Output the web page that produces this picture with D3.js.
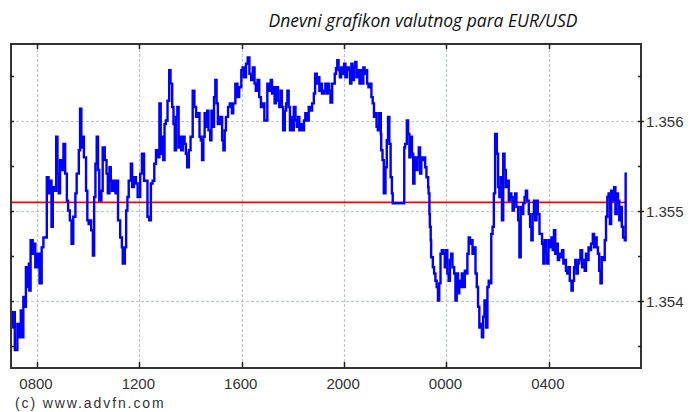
<!DOCTYPE html>
<html>
<head>
<meta charset="utf-8">
<script src="https://cdn.jsdelivr.net/npm/d3@7"></script>
<style>
  body { margin: 0; background: #fff; }
  svg { display: block; }
</style>
</head>
<body>
<div id="chart"></div>
<script>
// minutes after 07:00 on day one, and EUR/USD price at that time
var mins = [
  2, 4, 8, 14, 19, 22, 25, 28, 32, 34, 37, 41, 42, 45, 50, 53, 56, 61, 66, 71,
  75, 80, 83, 87, 91, 94, 97, 100, 105, 108, 111, 114, 118, 122, 126, 130, 133, 137, 141, 145,
  150, 153, 158, 161, 164, 167, 170, 175, 178, 181, 184, 187, 191, 194, 197, 200, 203, 206, 211, 214,
  219, 223, 226, 230, 233, 236, 239, 244, 247, 250, 255, 259, 261, 266, 269, 272, 275, 280, 283, 287,
  292, 296, 302, 306, 311, 316, 319, 323, 327, 331, 335, 339, 343, 347, 350, 353, 356, 359, 362, 366,
  370, 373, 377, 380, 383, 386, 389, 392, 395, 398, 402, 406, 409, 412, 416, 420, 425, 429, 433, 437,
  441, 444, 447, 450, 453, 456, 459, 462, 466, 469, 472, 475, 478, 481, 484, 489, 494, 497, 500, 503,
  508, 512, 517, 520, 525, 530, 534, 539, 542, 545, 550, 554, 558, 562, 566, 570, 573, 577, 581, 585,
  589, 593, 600, 605, 608, 611, 614, 617, 620, 625, 628, 631, 634, 637, 641, 644, 647, 650, 653, 656,
  659, 662, 666, 669, 672, 675, 678, 681, 686, 689, 694, 697, 702, 705, 709, 712, 716, 719, 722, 725,
  728, 733, 736, 739, 742, 745, 748, 752, 755, 758, 761, 764, 767, 770, 773, 777, 780, 783, 787, 791,
  794, 797, 800, 803, 806, 809, 812, 816, 819, 822, 825, 828, 831, 834, 837, 841, 844, 847, 850, 853,
  856, 859, 862, 866, 867, 870, 873, 877, 880, 883, 886, 889, 892, 894, 920, 921, 923, 927, 930, 933,
  936, 939, 942, 945, 948, 952, 955, 958, 961, 964, 967, 970, 973, 977, 978, 980, 981, 983, 984, 988,
  991, 994, 997, 1000, 1003, 1006, 1009, 1013, 1016, 1019, 1022, 1025, 1028, 1031, 1034, 1038, 1041, 1044, 1047, 1050,
  1053, 1056, 1059, 1063, 1066, 1069, 1072, 1075, 1078, 1081, 1084, 1088, 1091, 1094, 1097, 1100, 1103, 1106, 1109, 1113,
  1116, 1119, 1122, 1125, 1128, 1131, 1134, 1138, 1141, 1144, 1147, 1150, 1153, 1156, 1159, 1163, 1166, 1169, 1172, 1175,
  1178, 1181, 1184, 1188, 1191, 1194, 1197, 1200, 1203, 1206, 1209, 1213, 1216, 1219, 1222, 1225, 1228, 1231, 1234, 1238,
  1241, 1244, 1247, 1250, 1253, 1256, 1259, 1263, 1266, 1269, 1272, 1275, 1278, 1281, 1284, 1288, 1291, 1294, 1297, 1300,
  1303, 1306, 1309, 1313, 1316, 1319, 1322, 1325, 1328, 1331, 1334, 1338, 1341, 1344, 1347, 1350, 1353, 1356, 1359, 1363,
  1366, 1369, 1372, 1375, 1378, 1381, 1384, 1388, 1391, 1394, 1397, 1400, 1403, 1406, 1409, 1413, 1416, 1419, 1422, 1425,
  1428, 1431, 1434, 1438, 1440, 1443
];
var prices = [
  1.35371, 1.35388, 1.35346, 1.35375, 1.35360, 1.35390, 1.35360, 1.35405, 1.35394, 1.35438, 1.35416, 1.35442, 1.35412, 1.35468, 1.35453, 1.35464, 1.35438, 1.35453, 1.35420, 1.35460,
  1.35471, 1.35471, 1.35538, 1.35520, 1.35534, 1.35483, 1.35527, 1.35523, 1.35583, 1.35542, 1.35520, 1.35557, 1.35546, 1.35575, 1.35542, 1.35512, 1.35501, 1.35490, 1.35464, 1.35494,
  1.35520, 1.35542, 1.35568, 1.35614, 1.35571, 1.35583, 1.35560, 1.35523, 1.35490, 1.35486, 1.35490, 1.35479, 1.35451, 1.35516, 1.35553, 1.35583, 1.35546, 1.35512, 1.35523, 1.35571,
  1.35557, 1.35542, 1.35520, 1.35549, 1.35534, 1.35523, 1.35534, 1.35520, 1.35534, 1.35490, 1.35471, 1.35460, 1.35442, 1.35460, 1.35501, 1.35516, 1.35534, 1.35553, 1.35527, 1.35538,
  1.35531, 1.35516, 1.35542, 1.35564, 1.35534, 1.35534, 1.35494, 1.35490, 1.35531, 1.35534, 1.35553, 1.35568, 1.35560, 1.35620, 1.35564, 1.35583, 1.35557, 1.35597, 1.35601, 1.35623,
  1.35657, 1.35642, 1.35616, 1.35597, 1.35568, 1.35605, 1.35616, 1.35571, 1.35583, 1.35568, 1.35583, 1.35575, 1.35564, 1.35549, 1.35568, 1.35583, 1.35634, 1.35616, 1.35605, 1.35609,
  1.35583, 1.35579, 1.35557, 1.35583, 1.35609, 1.35594, 1.35612, 1.35590, 1.35579, 1.35612, 1.35594, 1.35627, 1.35646, 1.35620, 1.35597, 1.35605, 1.35579, 1.35568, 1.35590, 1.35605,
  1.35616, 1.35620, 1.35609, 1.35620, 1.35642, 1.35627, 1.35638, 1.35657, 1.35660, 1.35649, 1.35664, 1.35671, 1.35653, 1.35646, 1.35660, 1.35642, 1.35634, 1.35646, 1.35627, 1.35616,
  1.35620, 1.35601, 1.35642, 1.35634, 1.35646, 1.35631, 1.35638, 1.35620, 1.35638, 1.35623, 1.35616, 1.35634, 1.35616, 1.35590, 1.35612, 1.35620, 1.35634, 1.35616, 1.35590, 1.35605,
  1.35590, 1.35616, 1.35601, 1.35594, 1.35605, 1.35590, 1.35597, 1.35590, 1.35601, 1.35609, 1.35601, 1.35616, 1.35612, 1.35620, 1.35631, 1.35653, 1.35642, 1.35649, 1.35634, 1.35642,
  1.35631, 1.35634, 1.35642, 1.35631, 1.35642, 1.35634, 1.35621, 1.35642, 1.35642, 1.35653, 1.35659, 1.35668, 1.35657, 1.35649, 1.35660, 1.35653, 1.35664, 1.35649, 1.35660, 1.35657,
  1.35642, 1.35664, 1.35646, 1.35660, 1.35666, 1.35649, 1.35657, 1.35642, 1.35657, 1.35642, 1.35660, 1.35653, 1.35657, 1.35642, 1.35638, 1.35642, 1.35627, 1.35620, 1.35605, 1.35609,
  1.35594, 1.35590, 1.35609, 1.35586, 1.35568, 1.35557, 1.35520, 1.35549, 1.35579, 1.35605, 1.35575, 1.35538, 1.35520, 1.35509, 1.35509, 1.35571, 1.35575, 1.35601, 1.35586, 1.35560,
  1.35583, 1.35564, 1.35531, 1.35560, 1.35546, 1.35560, 1.35571, 1.35542, 1.35560, 1.35557, 1.35560, 1.35549, 1.35538, 1.35527, 1.35520, 1.35497, 1.35483, 1.35468, 1.35449, 1.35438,
  1.35431, 1.35423, 1.35416, 1.35401, 1.35420, 1.35453, 1.35457, 1.35453, 1.35438, 1.35457, 1.35431, 1.35423, 1.35446, 1.35453, 1.35438, 1.35431, 1.35401, 1.35431, 1.35409, 1.35423,
  1.35416, 1.35431, 1.35416, 1.35434, 1.35431, 1.35453, 1.35471, 1.35464, 1.35468, 1.35453, 1.35460, 1.35431, 1.35416, 1.35394, 1.35371, 1.35375, 1.35360, 1.35383, 1.35401, 1.35371,
  1.35416, 1.35423, 1.35420, 1.35475, 1.35483, 1.35520, 1.35586, 1.35564, 1.35527, 1.35516, 1.35538, 1.35490, 1.35564, 1.35546, 1.35527, 1.35534, 1.35512, 1.35520, 1.35516, 1.35501,
  1.35512, 1.35520, 1.35505, 1.35490, 1.35449, 1.35505, 1.35497, 1.35509, 1.35516, 1.35523, 1.35512, 1.35497, 1.35483, 1.35468, 1.35497, 1.35512, 1.35490, 1.35512, 1.35497, 1.35475,
  1.35475, 1.35464, 1.35442, 1.35468, 1.35453, 1.35442, 1.35468, 1.35460, 1.35471, 1.35457, 1.35479, 1.35453, 1.35464, 1.35446, 1.35453, 1.35449, 1.35457, 1.35442, 1.35446, 1.35434,
  1.35431, 1.35438, 1.35423, 1.35412, 1.35423, 1.35438, 1.35446, 1.35431, 1.35442, 1.35446, 1.35457, 1.35438, 1.35446, 1.35434, 1.35453, 1.35446, 1.35460, 1.35457, 1.35464, 1.35475,
  1.35460, 1.35471, 1.35460, 1.35453, 1.35434, 1.35420, 1.35449, 1.35446, 1.35468, 1.35494, 1.35516, 1.35520, 1.35486, 1.35523, 1.35512, 1.35527, 1.35497, 1.35520, 1.35512, 1.35490,
  1.35505, 1.35483, 1.35471, 1.35468, 1.35542, 1.35542
];
var refLevel = 1.3551;
var priceTicks = [1.354, 1.355, 1.356];
var title = "Dnevni grafikon valutnog para EUR/USD";
var credit = "(c) www.advfn.com";

var W = 694, H = 412;
var margin = {left: 11, top: 44, right: 53, bottom: 44};
var x0 = margin.left, x1 = W - margin.right, y0 = margin.top, y1 = H - margin.bottom;

var start = new Date(2013, 5, 10, 7, 0);
var toDate = function(m) { return new Date(start.getTime() + m * 60000); };
var data = mins.map(function(m, i) { return {t: toDate(m), p: prices[i]}; });

var x = d3.scaleTime()
    .domain([start, toDate(1476)])
    .range([x0 + 0.4, x1]);
var y = d3.scaleLinear()
    .domain([1.35326, 1.35686])
    .range([y1, y0]);

var svg = d3.select("#chart").append("svg")
    .attr("width", W)
    .attr("height", H);

var timeTicks = x.ticks(d3.timeHour.every(4));
var halfTicks = d3.range(1.3535, 1.3570, 0.0005).filter(function(v) {
  return y(v) > y0 + 2 && y(v) < y1 - 2;
});

// grid
var grid = svg.append("g").attr("class", "grid")
    .attr("stroke", "#b9c6c6")
    .attr("stroke-width", 1.2)
    .attr("stroke-dasharray", "3,2");
grid.selectAll(".gx").data(timeTicks).enter().append("line")
    .attr("x1", function(d) { return Math.round(x(d)) + 0.5; })
    .attr("x2", function(d) { return Math.round(x(d)) + 0.5; })
    .attr("y1", y0).attr("y2", y1);
grid.selectAll(".gy").data(priceTicks).enter().append("line")
    .attr("y1", function(d) { return Math.round(y(d)) + 0.5; })
    .attr("y2", function(d) { return Math.round(y(d)) + 0.5; })
    .attr("x1", x0).attr("x2", x1);

// reference level
svg.append("line")
    .attr("x1", x0)
    .attr("x2", x(data[data.length - 1].t))
    .attr("y1", y(refLevel))
    .attr("y2", y(refLevel))
    .attr("stroke", "#ff0000")
    .attr("stroke-width", 1.6);

// price line
var line = d3.line()
    .curve(d3.curveStepAfter)
    .x(function(d) { return x(d.t); })
    .y(function(d) { return y(d.p); });

svg.append("path")
    .datum(data)
    .attr("fill", "none")
    .attr("stroke", "#0000ff")
    .attr("stroke-width", 2.4)
    .attr("d", line);

// frame
svg.append("rect")
    .attr("x", x0).attr("y", y0)
    .attr("width", x1 - x0).attr("height", y1 - y0)
    .attr("fill", "none")
    .attr("stroke", "#333")
    .attr("stroke-width", 2);

// ticks on frame
var tk = svg.append("g").attr("stroke", "#222").attr("stroke-width", 1.5);
timeTicks.forEach(function(d) {
  var xx = Math.round(x(d)) + 0.5;
  tk.append("line").attr("x1", xx).attr("x2", xx).attr("y1", y0).attr("y2", y0 + 5);
  tk.append("line").attr("x1", xx).attr("x2", xx).attr("y1", y1).attr("y2", y1 - 6);
});
halfTicks.forEach(function(v) {
  var yy = Math.round(y(v)) + 0.5;
  tk.append("line").attr("x1", x0).attr("x2", x0 + 3).attr("y1", yy).attr("y2", yy);
  var major = priceTicks.some(function(p) { return Math.abs(p - v) < 1e-7; });
  tk.append("line").attr("x1", x1 - 3).attr("x2", x1 + (major ? 3 : 0)).attr("y1", yy).attr("y2", yy);
});

// axis labels
var fmt = d3.timeFormat("%H%M");
svg.append("g").selectAll("text").data(timeTicks).enter().append("text")
    .attr("x", function(d) { return x(d) - 1; })
    .attr("y", y1 + 21)
    .attr("text-anchor", "middle")
    .attr("font-family", "Liberation Sans, Arial, sans-serif")
    .attr("font-size", 15)
    .attr("fill", "#333")
    .text(function(d) { return fmt(d); });

svg.append("g").selectAll("text").data(priceTicks).enter().append("text")
    .attr("x", x1 + 5)
    .attr("y", function(d) { return y(d) + 5.5; })
    .attr("font-family", "Liberation Sans, Arial, sans-serif")
    .attr("font-size", 15)
    .attr("fill", "#333")
    .text(function(d) { return d3.format(".3f")(d); });

svg.append("text")
    .attr("x", 15)
    .attr("y", 408)
    .attr("font-family", "Liberation Sans, Arial, sans-serif")
    .attr("font-size", 14)
    .attr("letter-spacing", 1.9)
    .attr("fill", "#333")
    .text(credit);

svg.append("text")
    .attr("x", 423)
    .attr("y", 27)
    .attr("text-anchor", "middle")
    .attr("font-family", "Open Sans, sans-serif")
    .attr("font-style", "italic")
    .attr("font-size", 17.5)
    .attr("fill", "#111")
    .text(title);
</script>
</body>
</html>
